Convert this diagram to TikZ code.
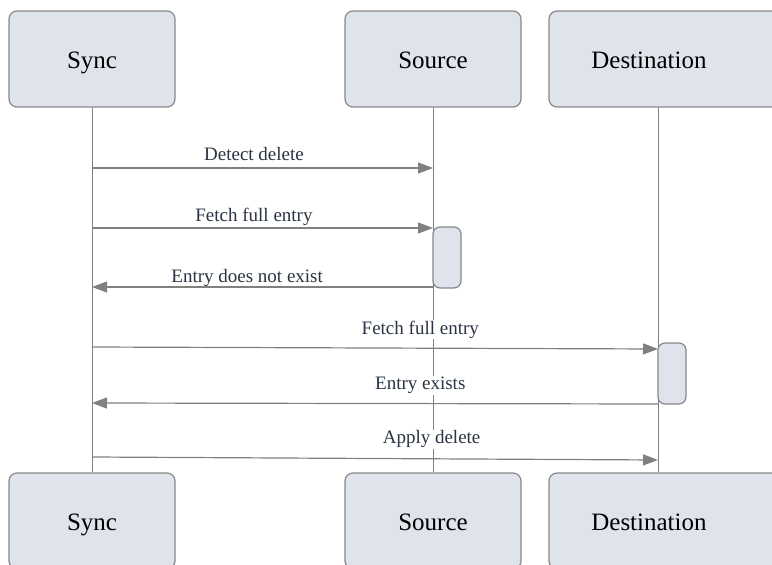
\documentclass[tikz,border=0pt]{standalone}
\usepackage{fontspec}
\setmainfont{Liberation Serif}
\usetikzlibrary{arrows.meta, positioning}
\definecolor{boxfill}{RGB}{223,227,236}
\definecolor{boxline}{RGB}{136,136,136}
\definecolor{msgline}{RGB}{128,128,128}
\definecolor{labeltext}{RGB}{42,52,66}

\begin{document}
\begin{tikzpicture}[
    x=1pt, y=-1pt,
    actor/.style={rectangle, draw=boxline, fill=boxfill, line width=1.2pt, rounded corners=8pt, minimum height=96pt, text height=20pt, text depth=2pt, font=\fontsize{25}{30}\selectfont},
    actbox/.style={rectangle, draw=boxline, fill=boxfill, line width=1.2pt, rounded corners=7pt, minimum width=28pt, minimum height=61pt, inner sep=0pt},
    lifeline/.style={draw=msgline, line width=1pt},
    msg/.style={draw=msgline, line width=1.2pt, -{Triangle[length=15pt, width=11pt]}},
    msglabel/.style={font=\fontsize{19}{22}\selectfont, text=labeltext, fill=white, inner xsep=2pt, inner ysep=1pt, text height=13pt, text depth=4pt, anchor=base}
]
\useasboundingbox (0,0) rectangle (772,565);

% Lifeline positions
\coordinate (syncLine) at (92,0);
\coordinate (srcLine) at (433,0);
\coordinate (dstLine) at (658,0);

% Participants (top)
\node[actor, minimum width=166pt] (syncTop) at (92,59) {Sync};
\node[actor, minimum width=176pt] (srcTop) at (433,59) {Source};
\node[actor, minimum width=232pt] (dstTop) at (665,59) {Destination\hspace*{32pt}};

% Participants (bottom)
\node[actor, minimum width=166pt] (syncBot) at (92,521) {Sync};
\node[actor, minimum width=176pt] (srcBot) at (433,521) {Source};
\node[actor, minimum width=232pt] (dstBot) at (665,521) {Destination\hspace*{32pt}};

% Lifelines
\draw[lifeline] (syncLine |- syncTop.south) -- (syncLine |- syncBot.north);
\draw[lifeline] (srcLine |- srcTop.south) -- (srcLine |- srcBot.north);
\draw[lifeline] (dstLine |- dstTop.south) -- (dstLine |- dstBot.north);

% Message ends
\coordinate (m1s) at (92,168);  \coordinate (m1e) at (433,168);
\coordinate (m2s) at (92,228);  \coordinate (m2e) at (433,228);
\coordinate (m3s) at (433,287); \coordinate (m3e) at (92,287);
\coordinate (m4s) at (92,347);  \coordinate (m4e) at (658,349);
\coordinate (m5s) at (658,404); \coordinate (m5e) at (92,403);
\coordinate (m6s) at (92,457);  \coordinate (m6e) at (658,460);

% Messages
\draw[msg] (m1s) -- (m1e) node[msglabel, pos=0.475, yshift=8pt] {Detect delete};
\draw[msg] (m2s) -- (m2e) node[msglabel, pos=0.475, yshift=7pt] {Fetch full entry};
\draw[msg] (m3s) -- (m3e) node[msglabel, pos=0.545, yshift=5pt, inner ysep=0pt, text depth=3pt] {Entry does not exist};
\draw[msg] (m4s) -- (m4e) node[msglabel, pos=0.58, yshift=14pt] {Fetch full entry};
\draw[msg] (m5s) -- (m5e) node[msglabel, pos=0.42, yshift=14pt] {Entry exists};
\draw[msg] (m6s) -- (m6e) node[msglabel, pos=0.6, yshift=15pt] {Apply delete};

% Activations
\node[actbox] (srcAct) at (447,257.5) {};
\node[actbox] (dstAct) at (672,373.5) {};

\end{tikzpicture}
\end{document}
